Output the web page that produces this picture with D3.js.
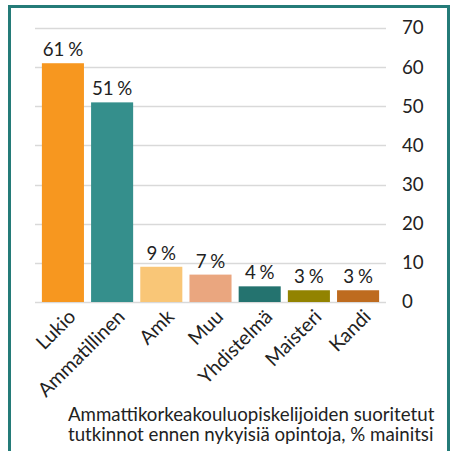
<!DOCTYPE html>
<html>
<head>
<meta charset="utf-8">
<script src="https://cdn.jsdelivr.net/npm/d3@7"></script>
<style>
    body { margin: 0; background: #fff; }
    svg text { font-family: Lato, "Open Sans", sans-serif; fill: #222; }
</style>
</head>
<body>
<div id="chart"></div>
<script>
// data
var categories = ["Lukio", "Ammatillinen", "Amk", "Muu", "Yhdistelmä", "Maisteri", "Kandi"],
    values = [61, 51, 9, 7, 4, 3, 3],
    colors = ["#f7971f", "#358f8c", "#f9c677", "#eaa67f", "#24736f", "#928300", "#be6b1f"],
    yTicks = [0, 10, 20, 30, 40, 50, 60, 70],
    titleLines = ["Ammattikorkeakouluopiskelijoiden suoritetut", "tutkinnot ennen nykyisiä opintoja, % mainitsi"];

(function () {
    "use strict";

    var width = 452,
        height = 451,
        fontSize = "18.7px",
        plot = { left: 35, right: 386, top: 28, bottom: 302 },
        svg, x, y, yAxis;

    svg = d3.select("#chart")
        .append("svg")
        .attr("width", width)
        .attr("height", height);

    // frame round the chart
    svg.append("path")
        .attr("d", "M9.5," + height + "V6.5H448.5V" + height)
        .attr("fill", "none")
        .attr("stroke", "#247b78")
        .attr("stroke-width", 3);

    x = d3.scaleBand()
        .domain(categories)
        .range([plot.left, plot.right])
        .paddingInner(0.145)
        .paddingOuter(0.14);

    y = d3.scaleLinear()
        .domain([0, 70])
        .range([plot.bottom, plot.top]);

    // gridlines
    svg.append("g")
        .selectAll("line")
        .data(yTicks)
        .enter()
        .append("line")
        .attr("x1", plot.left)
        .attr("x2", plot.right)
        .attr("y1", function (d) { return Math.round(y(d)) + 0.5; })
        .attr("y2", function (d) { return Math.round(y(d)) + 0.5; })
        .attr("stroke", "#d9d9d9")
        .attr("stroke-width", 1.5);

    // y axis on the right
    yAxis = svg.append("g")
        .attr("transform", "translate(" + plot.right + ",0)")
        .call(d3.axisRight(y).tickValues(yTicks).tickSize(0).tickPadding(16));
    yAxis.select(".domain").remove();
    yAxis.selectAll("text")
        .style("font-size", fontSize)
        .attr("fill", "#222");

    // bars
    svg.append("g")
        .selectAll("rect")
        .data(values)
        .enter()
        .append("rect")
        .attr("x", function (d, i) { return x(categories[i]); })
        .attr("y", function (d) { return y(d); })
        .attr("width", x.bandwidth())
        .attr("height", function (d) { return y(0) - y(d); })
        .attr("fill", function (d, i) { return colors[i]; });

    // value labels
    svg.append("g")
        .selectAll("text")
        .data(values)
        .enter()
        .append("text")
        .attr("x", function (d, i) { return x(categories[i]) + x.bandwidth() / 2; })
        .attr("y", function (d) { return y(d) - 7; })
        .attr("text-anchor", "middle")
        .style("font-size", fontSize)
        .style("word-spacing", "-1px")
        .text(function (d) { return d + " %"; });

    // category labels, rotated
    svg.append("g")
        .selectAll("text")
        .data(categories)
        .enter()
        .append("text")
        .attr("transform", function (d) {
            return "translate(" + (x(d) + x.bandwidth() / 2 + 14) + "," + (plot.bottom + 16) + ") rotate(-45)";
        })
        .attr("text-anchor", "end")
        .style("font-size", "19.6px")
        .text(function (d) { return d; });

    // title under the chart
    svg.append("text")
        .attr("x", 68)
        .attr("y", 421)
        .style("font-size", fontSize)
        .selectAll("tspan")
        .data(titleLines)
        .enter()
        .append("tspan")
        .attr("x", 68)
        .attr("dy", function (d, i) { return i ? 20 : 0; })
        .text(function (d) { return d; });
}());
</script>
</body>
</html>
